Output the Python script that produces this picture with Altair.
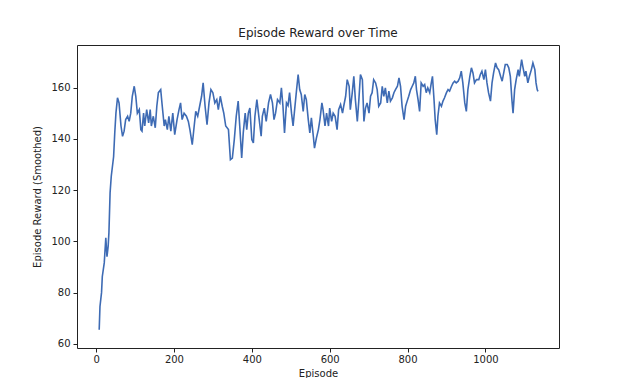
import altair as alt
import pandas as pd

episodes = [8,10,14,16,21,25,28,31,33,36,39,45,48,51,55,59,64,68,72,76,81,85,89,93,98,102,106,111,115,118,122,125,130,135,139,142,147,152,156,160,166,170,175,178,183,187,192,197,202,208,213,217,221,226,232,237,241,247,252,256,261,266,271,275,280,285,290,295,300,305,310,314,319,324,328,333,340,345,350,355,360,365,369,374,378,383,387,391,395,400,404,408,413,419,424,427,432,437,443,448,453,457,461,466,472,476,480,484,489,493,497,502,506,510,515,519,523,527,532,536,540,545,549,553,558,561,566,571,575,580,583,588,592,597,600,605,609,614,619,623,628,633,636,641,645,650,653,658,662,666,671,675,679,684,688,692,696,701,705,709,713,718,722,726,731,735,739,743,748,752,756,761,765,769,774,778,782,786,791,795,799,803,808,812,816,820,823,827,831,835,840,844,848,852,857,861,864,868,871,875,878,882,887,891,895,900,904,908,913,917,921,925,930,934,938,942,947,951,955,960,964,968,972,977,983,987,991,996,1000,1004,1008,1013,1017,1021,1026,1030,1034,1039,1043,1047,1051,1056,1060,1064,1068,1071,1075,1079,1084,1087,1093,1096,1101,1104,1109,1113,1118,1122,1127,1130,1133,1135]

rewards = [65.5,74.6,80,86.3,91.6,101.4,94,98,103.4,119,125.4,133,142.4,150,156,154,145,141,143,147.5,148.8,146.8,150,156.6,160.5,156.6,150,151.4,143.6,143,150,145,151.4,146.2,151.4,145,148.8,144.3,152.7,158,159.2,152.7,145,147.5,143.6,148.8,143,150,141.6,147.5,151.4,154,147.5,150,148.8,146.8,143.6,137.7,145,150.7,148.8,152.7,156.6,161.8,152.7,145.5,154,159.2,158,154,155.3,151.4,156.6,152.7,150,145,143.6,131.9,132.5,139.7,148.8,154.7,145,132.5,142.3,150,143.6,150,152,139.7,138.4,148.8,155.3,147.5,141,148.8,152,146.8,154,157.3,154,147.5,150,155.3,154,159.9,152.7,142.3,154,153,158,150,145,151.4,159.2,165.1,159.2,157.3,150.7,157.3,155.3,147.5,142.3,148.2,141,136.4,140.4,143.6,147.5,154,151.4,145,150,145,152,146.8,150,148.8,143.6,151.4,153.4,150,152.7,156.6,163.1,160.5,151.4,158,164.4,155.3,146.8,155.3,165.1,163.1,146.8,152,154,150,156.6,158,163.1,161.8,159.2,152.7,154,160.5,156.6,159.9,154,158.6,154.7,156,158,159.2,160.5,163.8,160.5,152.7,147.5,152.7,154.7,156.6,159.2,160.5,161.8,164.4,159.2,155.3,150.7,161.8,160.5,161.2,158,159.9,158,161.8,164.4,155.3,147.5,141.6,148.8,154,152.7,154.7,156,158,159.2,158.6,160.5,161.8,162.5,161.8,162.5,163.8,166.4,161.8,154,150.7,159.2,164.4,167.7,165.7,161.8,163.1,163.1,165.1,166.4,163.1,167,161.8,158,154.7,161.8,165.7,169.6,167.7,167,164.4,162.5,165.7,169,169,167.7,164.4,155.3,150,159.2,163.1,167,164.4,170.9,168.3,164.4,166.4,161.8,164.4,167,169.6,167,161.8,159.2,158.5]

x_ticks = [0, 200, 400, 600, 800, 1000]
y_ticks = [60, 80, 100, 120, 140, 160]

df = pd.DataFrame({"Episode": episodes, "Reward": rewards})

font = "DejaVu Sans"

chart = alt.Chart(df).mark_line(color="#3e6bb4", strokeWidth=1.6).encode(
    x=alt.X("Episode:Q",
            scale=alt.Scale(domain=[-49, 1189], nice=False, zero=False),
            axis=alt.Axis(title="Episode", values=x_ticks, grid=False, domain=False,
                          tickSize=4, tickColor="#222", labelPadding=2,
                          labelFont=font, labelFontSize=10, labelColor="#222",
                          titleFont=font, titleFontSize=10, titleFontWeight="normal",
                          titleColor="#222", titlePadding=4, format="d")),
    y=alt.Y("Reward:Q",
            scale=alt.Scale(domain=[58.4, 176.6], nice=False, zero=False),
            axis=alt.Axis(title="Episode Reward (Smoothed)", values=y_ticks, grid=False,
                          domain=False, tickSize=4, tickColor="#222", labelPadding=3,
                          labelFont=font, labelFontSize=10, labelColor="#222",
                          titleFont=font, titleFontSize=10, titleFontWeight="normal",
                          titleColor="#222", titlePadding=8, format="d")),
).properties(
    width=482,
    height=303,
    title=alt.TitleParams("Episode Reward over Time", font=font, fontSize=12,
                          fontWeight="normal", color="#222", anchor="middle", offset=5),
    autosize=alt.AutoSizeParams(type="none"),
    padding={"left": 69, "top": 37, "right": 40, "bottom": 30},
).configure(
    background="white",
    view=alt.ViewConfig(stroke="#222", strokeWidth=1),
)

chart.save("out.html", embed_options={"renderer": "svg", "actions": False})
